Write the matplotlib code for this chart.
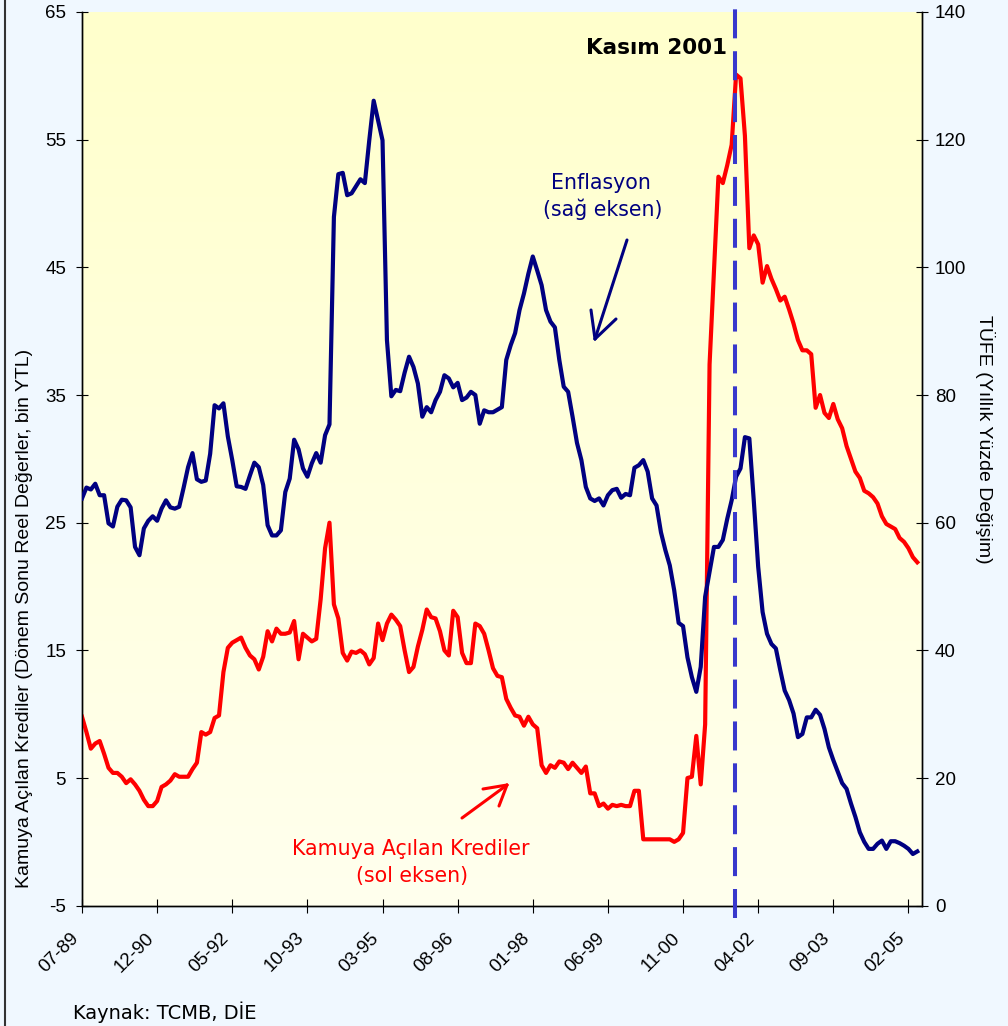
import numpy as np
import matplotlib
matplotlib.use('Agg')
from matplotlib import pyplot as plt
from matplotlib.colors import LinearSegmentedColormap
from matplotlib.lines import Line2D

plt.rcParams['font.family'] = ['Liberation Sans', 'DejaVu Sans']
plt.rcParams['axes.unicode_minus'] = False

# Monthly series, 07-89 .. 04-05
tick_labels = ['07-89', '12-90', '05-92', '10-93', '03-95', '08-96',
               '01-98', '06-99', '11-00', '04-02', '09-03', '02-05']

# Kamuya açılan krediler (left axis)
credit = [9.8, 8.6, 7.3, 7.7, 7.9, 6.9, 5.8, 5.4, 5.4, 5.1,
          4.6, 4.9, 4.5, 4.0, 3.3, 2.8, 2.8, 3.2, 4.3, 4.5,
          4.8, 5.3, 5.1, 5.1, 5.1, 5.7, 6.2, 8.6, 8.4, 8.6,
          9.7, 9.9, 13.3, 15.2, 15.6, 15.8, 16.0, 15.2, 14.6, 14.3,
          13.5, 14.5, 16.5, 15.7, 16.7, 16.3, 16.3, 16.4, 17.3, 14.3,
          16.3, 16.0, 15.7, 15.9, 19.0, 23.0, 25.0, 18.6, 17.5, 14.8,
          14.2, 14.9, 14.8, 15.0, 14.7, 13.9, 14.4, 17.1, 15.8, 17.1,
          17.8, 17.4, 16.9, 15.0, 13.3, 13.7, 15.3, 16.6, 18.2, 17.6,
          17.5, 16.5, 15.0, 14.6, 18.1, 17.6, 14.8, 14.0, 14.0, 17.1,
          16.9, 16.3, 15.0, 13.6, 13.0, 12.9, 11.2, 10.5, 9.9, 9.8,
          9.1, 9.8, 9.2, 8.9, 6.0, 5.4, 6.0, 5.8, 6.3, 6.2,
          5.7, 6.2, 5.8, 5.4, 5.9, 3.8, 3.8, 2.8, 3.0, 2.6,
          2.9, 2.8, 2.9, 2.8, 2.8, 4.0, 4.0, 0.2, 0.2, 0.2,
          0.2, 0.2, 0.2, 0.2, 0.0, 0.2, 0.7, 5.0, 5.1, 8.3,
          4.5, 9.2, 37.4, 44.8, 52.1, 51.6, 53.0, 54.6, 60.1, 59.8,
          55.3, 46.5, 47.5, 46.8, 43.8, 45.1, 44.1, 43.3, 42.4, 42.7,
          41.7, 40.6, 39.3, 38.5, 38.5, 38.2, 34.0, 35.0, 33.6, 33.2,
          34.3, 33.1, 32.4, 31.0, 30.0, 29.0, 28.5, 27.5, 27.3, 27.0,
          26.5, 25.5, 24.9, 24.7, 24.5, 23.8, 23.5, 23.0, 22.3, 21.9]

# TÜFE yıllık % (right axis)
cpi = [63.8, 65.5, 65.2, 66.1, 64.3, 64.3, 59.9, 59.4, 62.5, 63.6,
       63.5, 62.4, 56.2, 54.9, 59.1, 60.3, 61.0, 60.3, 62.2, 63.5,
       62.4, 62.2, 62.5, 65.5, 68.7, 70.9, 66.8, 66.4, 66.6, 70.8,
       78.4, 77.9, 78.7, 73.5, 69.8, 65.7, 65.6, 65.3, 67.4, 69.4,
       68.7, 65.9, 59.6, 58.0, 58.0, 58.8, 64.8, 66.9, 73.0, 71.5,
       68.5, 67.2, 69.3, 70.9, 69.4, 73.7, 75.4, 107.9, 114.6, 114.8,
       111.3, 111.6, 112.7, 113.8, 113.2, 119.9, 126.1, 123.0, 119.9, 88.6,
       79.8, 80.8, 80.6, 83.5, 86.0, 84.4, 81.8, 76.6, 78.1, 77.3,
       79.2, 80.5, 83.1, 82.6, 81.2, 81.9, 79.2, 79.6, 80.5, 80.0,
       75.5, 77.6, 77.3, 77.3, 77.7, 78.1, 85.5, 87.8, 89.7, 93.3,
       95.9, 99.0, 101.7, 99.5, 97.2, 93.3, 91.5, 90.6, 85.5, 81.3,
       80.5, 76.6, 72.5, 69.8, 65.6, 63.8, 63.4, 63.8, 62.7, 64.3,
       65.1, 65.3, 63.9, 64.5, 64.3, 68.6, 69.0, 69.8, 68.0, 63.8,
       62.7, 58.5, 55.7, 53.3, 49.4, 44.3, 43.8, 38.9, 35.8, 33.5,
       37.4, 48.4, 52.3, 56.2, 56.2, 57.3, 60.6, 63.5, 67.2, 68.5,
       73.4, 73.2, 63.5, 53.1, 46.0, 42.6, 41.0, 40.3, 36.9, 33.7,
       32.2, 30.1, 26.4, 26.9, 29.5, 29.5, 30.7, 29.9, 27.7, 24.8,
       22.8, 21.0, 19.2, 18.3, 16.0, 13.9, 11.5, 10.0, 8.9, 8.9,
       9.7, 10.2, 8.9, 10.1, 10.1, 9.8, 9.4, 8.9, 8.1, 8.5]

months = np.arange(len(credit))
kasim_2001 = 147.7

W, H = 1008, 1026
fig = plt.figure(figsize=(W / 100, H / 100), dpi=100, facecolor='#F0F8FF')

def px(x, y):
    # figure pixel (from top-left) -> figure fraction
    return x / W, 1 - y / H

ax = fig.add_axes([82 / W, 1 - 905.7 / H, (921.7 - 82) / W, (905.7 - 12) / H])
ax2 = ax.twinx()

# yellow gradient background
grad = np.linspace(0, 1, 256).reshape(-1, 1)
cmap = LinearSegmentedColormap.from_list('bg', ['#FFFFCC', '#FFFFEE'])
ax.imshow(grad, extent=[0, 1, 0, 1], transform=ax.transAxes, aspect='auto',
          cmap=cmap, origin='upper', zorder=0)

ax.plot(months, credit, color='#FF0000', lw=3, solid_joinstyle='round', zorder=3)
ax2.plot(months, cpi, color='#000080', lw=3, solid_joinstyle='round', zorder=3)

ax.set_xlim(0, 190)
ax.set_ylim(-5, 65)
ax2.set_ylim(0, 140)
ax.set_yticks(np.arange(-5, 66, 10))
ax2.set_yticks(np.arange(0, 141, 20))
ax.set_xticks(np.arange(0, 190, 17))
ax.set_xticklabels(tick_labels, rotation=45, ha='right', va='top')

for a in (ax, ax2):
    a.spines['top'].set_visible(False)
    for s in a.spines.values():
        s.set_linewidth(1)
ax.tick_params(axis='y', direction='inout', length=8, labelsize=13.5, pad=7.5)
ax2.tick_params(axis='y', direction='inout', length=8, labelsize=13.5, pad=5.5)
ax.tick_params(axis='x', direction='inout', length=10, labelsize=13.5, pad=12)

# Kasım 2001 marker
ax2.axvline(kasim_2001, ymin=-0.014, ymax=1.009, color='#3838CC', lw=2.9,
            linestyle=(0, (7.2, 3.2)), clip_on=False, zorder=5)

fig.text(*px(727, 54), 'Kasım 2001', family='DejaVu Sans', fontweight='bold',
         fontsize=15.5, ha='right', va='baseline')
fig.text(*px(601, 189), 'Enflasyon', family='DejaVu Sans', fontsize=14.8,
         color='#000080', ha='center', va='baseline')
fig.text(*px(603, 216), '(sağ eksen)', family='DejaVu Sans', fontsize=14.8,
         color='#000080', ha='center', va='baseline')
fig.text(*px(411, 855), 'Kamuya Açılan Krediler', family='DejaVu Sans',
         fontsize=14.8, color='#FF0000', ha='center', va='baseline')
fig.text(*px(412, 882), '(sol eksen)', family='DejaVu Sans',
         fontsize=14.8, color='#FF0000', ha='center', va='baseline')
fig.text(*px(73, 1019), 'Kaynak: TCMB, DİE', family='DejaVu Sans',
         fontsize=14, ha='left', va='baseline')

fig.text(*px(25, 618), 'Kamuya Açılan Krediler (Dönem Sonu Reel Değerler, bin YTL)',
         rotation=90, fontsize=14, ha='center', va='center')
fig.text(*px(985, 439), 'TÜFE (Yıllık Yüzde Değişim)',
         rotation=270, fontsize=14, ha='center', va='center')

# hand-drawn style arrows
def arrow(pts, color):
    for seg in pts:
        xs, ys = zip(*[px(*p) for p in seg])
        fig.add_artist(Line2D(xs, ys, transform=fig.transFigure, color=color,
                              lw=2.2, solid_capstyle='round'))

arrow([[(627, 240), (595, 339)], [(595, 339), (591, 310)], [(595, 339), (616, 319)]],
      '#000080')
arrow([[(462, 818), (507, 785)], [(507, 785), (483, 789)], [(507, 785), (499, 806)]],
      '#FF0000')

# frame line at left edge
fig.add_artist(Line2D([4.5 / W] * 2, [0, 1], transform=fig.transFigure,
                      color='#333333', lw=1.5))

fig.savefig('out.png', dpi=100, facecolor=fig.get_facecolor())
